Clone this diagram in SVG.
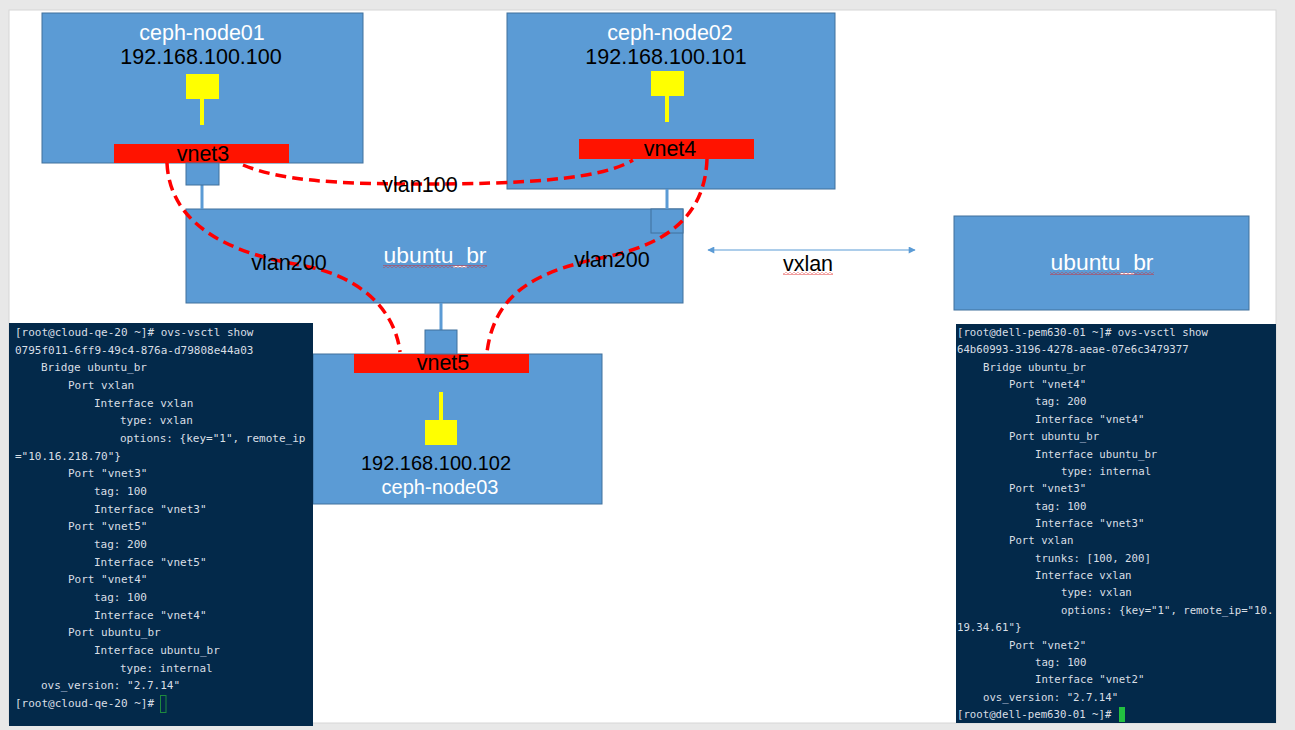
<svg xmlns="http://www.w3.org/2000/svg" width="1295" height="730" viewBox="0 0 1295 730">
<style>
.box{fill:#5b9bd5;stroke:#41719c;stroke-width:1}
.t{font-family:"Liberation Sans","Open Sans",Arial,sans-serif;font-size:21.5px;text-anchor:middle}
.s{font-size:20px}
.w{fill:#ffffff}
.k{fill:#000000}
.bar{fill:#ff1300}
.yel{fill:#ffff00}
.stem{stroke:#5b9bd5;stroke-width:3}
.ys{stroke:#ffff00;stroke-width:4}
.dash{fill:none;stroke:#ff0000;stroke-width:3.5;stroke-dasharray:11 6}
.term{fill:#03294a}
.tl{font-family:"DejaVu Sans Mono","Liberation Mono",monospace;font-size:11px;fill:#d9dfe5}
.tr{font-family:"DejaVu Sans Mono","Liberation Mono",monospace;font-size:10.7px;fill:#d9dfe5}
</style>
<defs>
<marker id="ah" viewBox="0 0 10 10" refX="9" refY="5" markerWidth="9" markerHeight="7" orient="auto-start-reverse" markerUnits="userSpaceOnUse">
<path d="M0,0 L10,5 L0,10 z" fill="#5b9bd5"/>
</marker>
<pattern id="squig" width="4" height="3" patternUnits="userSpaceOnUse">
<path d="M0,0.6 L2,2.4 L4,0.6" stroke="#e02020" stroke-width="0.8" fill="none"/>
</pattern>
</defs>
<rect x="0" y="0" width="1295" height="730" fill="#e8e8e8"/>
<rect x="9" y="10" width="1267" height="713" fill="#ffffff" stroke="#d6d6d6" stroke-width="1"/>

<g id="ceph-node01">
<rect class="box" x="42" y="13" width="321" height="150"/>
<text class="t w" x="202" y="40">ceph-node01</text>
<text class="t k" x="201" y="64">192.168.100.100</text>
<rect class="yel" x="186" y="74" width="33" height="25"/>
<line class="ys" x1="202" y1="99" x2="202" y2="125"/>
<rect class="bar" x="114" y="144" width="175" height="19"/>
<text class="t k" x="203" y="161">vnet3</text>
</g>

<g id="ceph-node02">
<rect class="box" x="507" y="13" width="328" height="176"/>
<text class="t w" x="670" y="40">ceph-node02</text>
<text class="t k" x="666" y="64">192.168.100.101</text>
<rect class="yel" x="651" y="71" width="33" height="25"/>
<line class="ys" x1="667" y1="96" x2="667" y2="122"/>
<rect class="bar" x="579" y="139" width="175" height="20"/>
<text class="t k" x="670" y="156">vnet4</text>
</g>

<g id="ubuntu_br_left">
<rect class="box" x="186" y="209" width="497" height="94"/>
<rect class="box" x="651" y="209" width="32" height="24"/>
<text class="t w" x="435" y="263" textLength="103" lengthAdjust="spacingAndGlyphs">ubuntu_br</text>
<rect x="383" y="265" width="104" height="3" fill="url(#squig)"/>
</g>

<g id="ceph-node03">
<rect class="box" x="313" y="354" width="289" height="150"/>
<rect class="bar" x="354" y="354" width="175" height="19"/>
<text class="t k" x="443" y="370">vnet5</text>
<line class="ys" x1="441" y1="392" x2="441" y2="420"/>
<rect class="yel" x="425" y="420" width="32" height="25"/>
<text class="t s k" x="436" y="470">192.168.100.102</text>
<text class="t s w" x="440" y="494">ceph-node03</text>
</g>

<g id="ubuntu_br_right">
<rect class="box" x="954" y="216" width="295" height="94"/>
<text class="t w" x="1102" y="270" textLength="103" lengthAdjust="spacingAndGlyphs">ubuntu_br</text>
<rect x="1050" y="272" width="104" height="3" fill="url(#squig)"/>
</g>

<g id="connectors">
<line class="stem" x1="202" y1="185" x2="202" y2="209"/>
<rect class="box" x="186" y="163" width="33" height="22"/>
<line class="stem" x1="667" y1="189" x2="667" y2="209"/>
<line class="stem" x1="441" y1="303" x2="441" y2="330"/>
<rect class="box" x="425" y="330" width="32" height="24"/>
<path class="dash" d="M243,165 C280,180 330,184 420,184 C520,184 600,180 633,160"/>
<path class="dash" d="M167,163 C170,230 240,255 300,265 C360,275 395,310 400,352"/>
<path class="dash" d="M707,159 C705,220 660,245 610,256 C540,270 495,290 487,352"/>
<line x1="708" y1="250" x2="915" y2="250" stroke="#5b9bd5" stroke-width="1.2" marker-start="url(#ah)" marker-end="url(#ah)"/>
</g>

<g id="labels">
<text class="t k" x="420" y="192">vlan100</text>
<text class="t k" x="289" y="270">vlan200</text>
<text class="t k" x="612" y="267">vlan200</text>
<text class="t k" x="808" y="271">vxlan</text>
<rect x="783" y="272" width="50" height="3" fill="url(#squig)"/>
</g>

<g id="terminal-left">
<rect class="term" x="9" y="323" width="304" height="403"/>
<text class="tl" x="15" y="336">[root@cloud-qe-20 ~]# ovs-vsctl show</text>
<text class="tl" x="15" y="353.7">0795f011-6ff9-49c4-876a-d79808e44a03</text>
<text class="tl" x="41" y="371.3">Bridge ubuntu_br</text>
<text class="tl" x="68" y="389">Port vxlan</text>
<text class="tl" x="94" y="406.7">Interface vxlan</text>
<text class="tl" x="120" y="424.3">type: vxlan</text>
<text class="tl" x="120" y="442">options: {key="1", remote_ip</text>
<text class="tl" x="15" y="459.7">="10.16.218.70"}</text>
<text class="tl" x="68" y="477.4">Port "vnet3"</text>
<text class="tl" x="94" y="495">tag: 100</text>
<text class="tl" x="94" y="512.7">Interface "vnet3"</text>
<text class="tl" x="68" y="530.4">Port "vnet5"</text>
<text class="tl" x="94" y="548">tag: 200</text>
<text class="tl" x="94" y="565.7">Interface "vnet5"</text>
<text class="tl" x="68" y="583.4">Port "vnet4"</text>
<text class="tl" x="94" y="601">tag: 100</text>
<text class="tl" x="94" y="618.7">Interface "vnet4"</text>
<text class="tl" x="68" y="636.4">Port ubuntu_br</text>
<text class="tl" x="94" y="654">Interface ubuntu_br</text>
<text class="tl" x="120" y="671.7">type: internal</text>
<text class="tl" x="41" y="689.4">ovs_version: "2.7.14"</text>
<text class="tl" x="15" y="707">[root@cloud-qe-20 ~]#</text>
<rect x="160.5" y="695.5" width="5.5" height="17" fill="none" stroke="#1e8a3e" stroke-width="1"/>
</g>

<g id="terminal-right">
<rect class="term" x="956" y="324" width="320" height="399"/>
<text class="tr" x="957" y="336">[root@dell-pem630-01 ~]# ovs-vsctl show</text>
<text class="tr" x="957" y="353.4">64b60993-3196-4278-aeae-07e6c3479377</text>
<text class="tr" x="983" y="370.7">Bridge ubuntu_br</text>
<text class="tr" x="1009" y="388.1">Port "vnet4"</text>
<text class="tr" x="1035" y="405.4">tag: 200</text>
<text class="tr" x="1035" y="422.8">Interface "vnet4"</text>
<text class="tr" x="1009" y="440.2">Port ubuntu_br</text>
<text class="tr" x="1035" y="457.5">Interface ubuntu_br</text>
<text class="tr" x="1061" y="474.9">type: internal</text>
<text class="tr" x="1009" y="492.2">Port "vnet3"</text>
<text class="tr" x="1035" y="509.6">tag: 100</text>
<text class="tr" x="1035" y="527">Interface "vnet3"</text>
<text class="tr" x="1009" y="544.3">Port vxlan</text>
<text class="tr" x="1035" y="561.7">trunks: [100, 200]</text>
<text class="tr" x="1035" y="579">Interface vxlan</text>
<text class="tr" x="1061" y="596.4">type: vxlan</text>
<text class="tr" x="1061" y="613.8">options: {key="1", remote_ip="10.</text>
<text class="tr" x="957" y="631.1">19.34.61"}</text>
<text class="tr" x="1009" y="648.5">Port "vnet2"</text>
<text class="tr" x="1035" y="665.8">tag: 100</text>
<text class="tr" x="1035" y="683.2">Interface "vnet2"</text>
<text class="tr" x="983" y="700.6">ovs_version: "2.7.14"</text>
<text class="tr" x="957" y="717.9">[root@dell-pem630-01 ~]#</text>
<rect x="1119" y="707" width="6" height="15" fill="#22c040"/>
</g>
</svg>
